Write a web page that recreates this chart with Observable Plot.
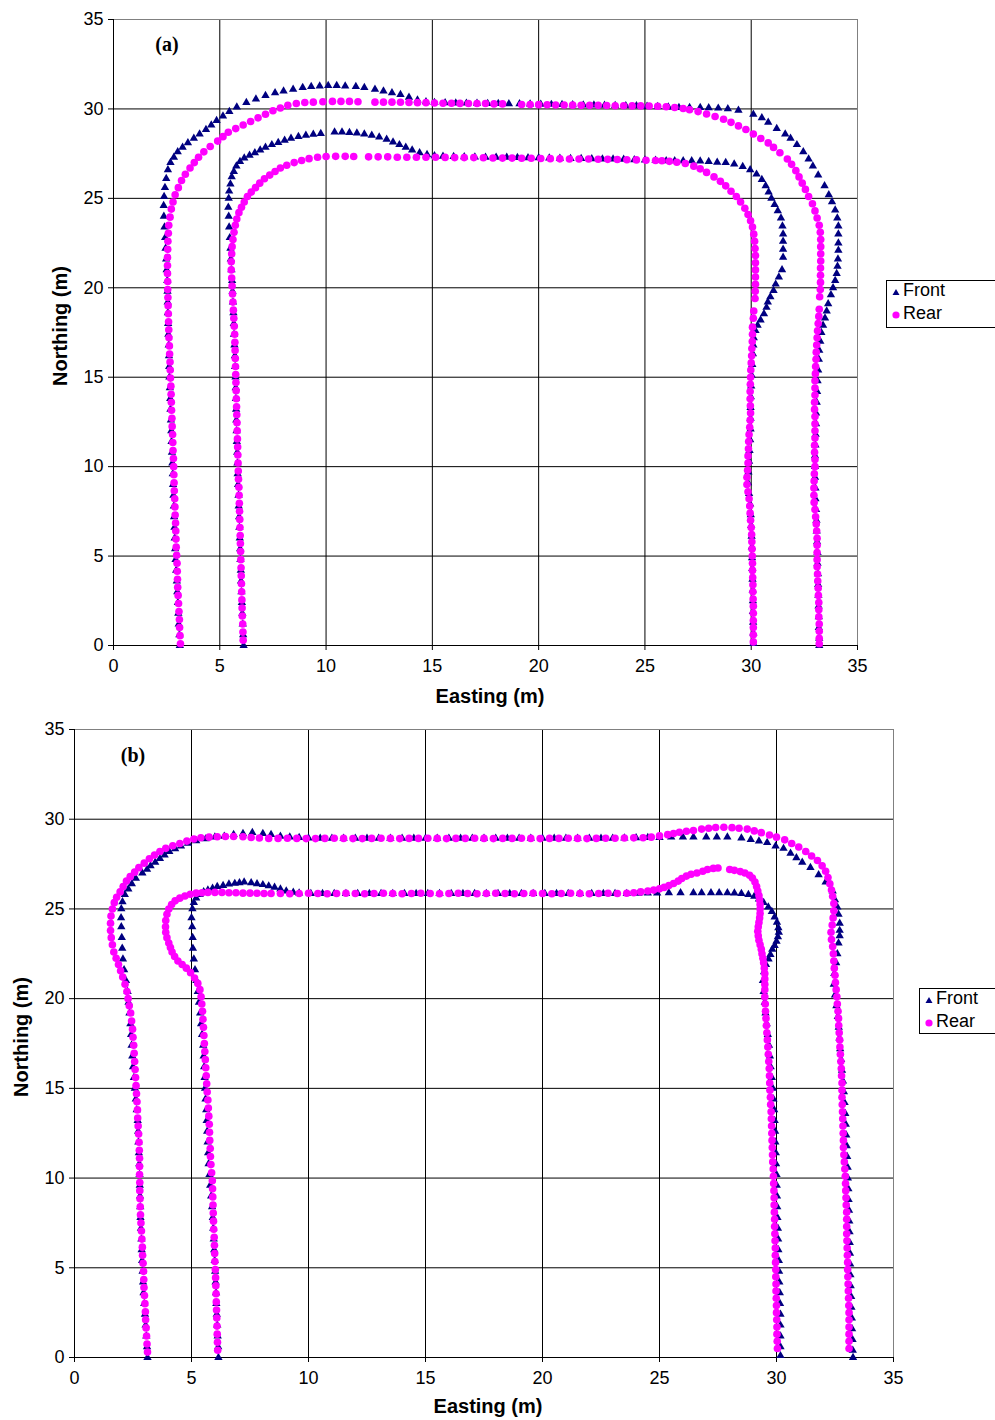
<!DOCTYPE html>
<html>
<head>
<meta charset="utf-8">
<script src="https://cdn.jsdelivr.net/npm/d3@7"></script>
<script src="https://cdn.jsdelivr.net/npm/@observablehq/plot@0.6"></script>
<style>
  html, body { margin: 0; padding: 0; background: #fff; }
  #page { position: relative; width: 995px; height: 1420px; font-family: "Liberation Sans", Arial, sans-serif; color: #000; }
  .panel { position: absolute; left: 0; }
  .ytitle, .xtitle { position: absolute; font-weight: bold; font-size: 20px; white-space: nowrap; }
  .ytitle { transform: translate(-50%, -50%) rotate(-90deg); }
  .xtitle { transform: translate(-50%, -50%); }
  .tag { position: absolute; font-family: "Liberation Serif", "Times New Roman", serif; font-weight: bold; font-size: 20px; transform: translate(-50%, -50%); }
  .legend { position: absolute; border: 1px solid #000; background: #fff; font-size: 18px; box-sizing: border-box; padding: 0 0 0 4px; }
  .legend .row { display: flex; align-items: center; height: 23px; }
  .legend svg { margin-right: 2px; }
</style>
</head>
<body>
<div id="page">
  <div id="panelA" class="panel" style="top:0"></div>
  <div id="panelB" class="panel" style="top:710px"></div>
  <div class="ytitle" style="left:60px; top:326px">Northing (m)</div>
  <div class="xtitle" style="left:490px; top:696px">Easting (m)</div>
  <div class="tag" style="left:167px; top:44px">(a)</div>
  <div class="legend" style="left:886px; top:280px; width:112px; height:48px">
    <div class="row" style="margin-top:-2px"><svg width="10" height="10"><path d="M5,3 L8.5,9 L1.5,9 Z" fill="#000080"/></svg>Front</div>
    <div class="row"><svg width="10" height="10"><circle cx="5" cy="6" r="3.6" fill="#ff00ff"/></svg>Rear</div>
  </div>
  <div class="ytitle" style="left:21px; top:1037px">Northing (m)</div>
  <div class="xtitle" style="left:488px; top:1406px">Easting (m)</div>
  <div class="tag" style="left:133px; top:755px">(b)</div>
  <div class="legend" style="left:919px; top:988px; width:80px; height:46px">
    <div class="row" style="margin-top:-2px"><svg width="10" height="10"><path d="M5,3 L8.5,9 L1.5,9 Z" fill="#000080"/></svg>Front</div>
    <div class="row"><svg width="10" height="10"><circle cx="5" cy="6" r="3.6" fill="#ff00ff"/></svg>Rear</div>
  </div>
</div>
<script>
// Axis ticks (metres)
const axisTicks = [0, 5, 10, 15, 20, 25, 30, 35];
const gridTicks = [5, 10, 15, 20, 25, 30];
const seriesNames = ["Front", "Rear"];

// All series below are pairs: northing, easting (m)
// Panel (a)
const aFrontOuter = [0,3.12, 0.6,3.1, 1.2,3.07, 1.8,3.05, 2.4,3.03, 3,3, 3.6,2.98, 4.2,2.95, 4.8,2.92, 5.4,2.9, 6,2.88, 6.6,2.87, 7.2,2.85, 7.8,2.84, 8.4,2.82, 9,2.8, 9.6,2.79, 10.2,2.77, 10.8,2.75, 11.4,2.73, 12,2.72, 12.6,2.7, 13.2,2.68, 13.8,2.67, 14.4,2.65, 15,2.63, 15.6,2.62, 16.2,2.61, 16.8,2.6, 17.4,2.58, 18,2.57, 18.6,2.56, 19.2,2.55, 19.8,2.54, 20.4,2.53, 21,2.5, 21.6,2.48, 22.2,2.45, 22.8,2.43, 23.4,2.4, 24,2.37, 24.6,2.36, 25.1,2.38, 25.6,2.42, 26.1,2.48, 26.6,2.56, 27,2.68, 27.3,2.84, 27.6,3.02, 27.85,3.25, 28.1,3.5, 28.35,3.78, 28.6,4.05, 28.85,4.35, 29.1,4.6, 29.35,4.85, 29.6,5.15, 29.85,5.45, 30.1,5.8, 30.35,6.25, 30.55,6.7, 30.75,7.15, 30.9,7.6, 31,8, 31.1,8.45, 31.2,8.9, 31.25,9.3, 31.28,9.7, 31.3,10.1, 31.3,10.5, 31.28,10.9, 31.25,11.4, 31.2,11.8, 31.1,12.3, 31,12.7, 30.9,13.1, 30.8,13.5, 30.65,13.9, 30.5,14.3, 30.4,14.7, 30.35,15.1, 30.34,15.6, 30.33,16.1, 30.32,16.6, 30.31,17.1, 30.3,17.6, 30.3,18.1, 30.29,18.6, 30.28,19.1, 30.27,19.6, 30.26,20.1, 30.25,20.6, 30.24,21.1, 30.23,21.6, 30.22,22.1, 30.21,22.6, 30.2,23.1, 30.19,23.6, 30.18,24.1, 30.17,24.6, 30.15,25.1, 30.13,25.6, 30.1,26.1, 30.08,26.6, 30.07,27.1, 30.07,27.6, 30.06,28, 30.04,28.45, 30,28.9, 29.92,29.4, 29.7,30.1, 29.5,30.5, 29.25,30.8, 28.9,31.2, 28.6,31.6, 28.35,31.85, 28,32.15, 27.6,32.45, 27.2,32.7, 26.8,32.9, 26.3,33.15, 25.7,33.45, 25.2,33.65, 24.8,33.8, 24.35,33.95, 23.9,34.05, 23.45,34.1, 23,34.1, 22.5,34.1, 22.1,34.1, 21.6,34.08, 21.2,34.06, 20.8,34.02, 20.4,33.95, 20,33.85, 19.6,33.75, 19.1,33.62, 18.7,33.55, 18.3,33.47, 17.9,33.38, 17.5,33.3, 17,33.25, 16.5,33.2, 16,33.18, 15.4,33.15, 14.8,33.12, 14.2,33.1, 13.6,33.08, 13,33.05, 12.4,33.05, 11.8,33.03, 11.2,33.02, 10.6,33, 10,33, 9.4,33, 8.8,33.02, 8.2,33.02, 7.6,33.05, 7,33.07, 6.4,33.08, 5.8,33.1, 5.2,33.12, 4.6,33.12, 4,33.14, 3.4,33.15, 2.8,33.16, 2.2,33.17, 1.6,33.18, 1,33.18, 0.4,33.2, 0,33.2];
const aRearOuter = [0.1,3.15, 0.55,3.13, 1,3.11, 1.45,3.1, 1.9,3.08, 2.35,3.06, 2.8,3.04, 3.25,3.02, 3.7,3.01, 4.15,3, 4.6,2.99, 5.05,2.97, 5.5,2.95, 5.95,2.94, 6.4,2.93, 6.85,2.92, 7.3,2.9, 7.75,2.89, 8.2,2.88, 8.65,2.86, 9.1,2.85, 9.55,2.84, 10,2.83, 10.45,2.82, 10.9,2.8, 11.35,2.79, 11.8,2.78, 12.25,2.76, 12.7,2.75, 13.15,2.73, 13.6,2.72, 14.05,2.71, 14.5,2.7, 14.95,2.68, 15.4,2.67, 15.85,2.66, 16.3,2.64, 16.75,2.63, 17.2,2.61, 17.65,2.6, 18.1,2.59, 18.55,2.58, 19,2.57, 19.45,2.56, 19.9,2.55, 20.35,2.55, 20.8,2.54, 21.25,2.54, 21.7,2.54, 22.15,2.55, 22.6,2.56, 23.05,2.58, 23.5,2.6, 23.95,2.66, 24.4,2.72, 24.8,2.8, 25.2,2.9, 25.6,3.05, 26,3.2, 26.35,3.38, 26.7,3.6, 27,3.8, 27.3,4, 27.6,4.25, 27.9,4.55, 28.2,4.9, 28.45,5.15, 28.7,5.4, 28.9,5.75, 29.1,6.1, 29.3,6.45, 29.5,6.8, 29.7,7.15, 29.9,7.5, 30.05,7.85, 30.2,8.2, 30.3,8.6, 30.36,9, 30.38,9.4, 30.4,9.85, 30.42,10.3, 30.42,10.7, 30.42,11.1, 30.4,11.5, 30.38,12.3, 30.38,12.7, 30.38,13.1, 30.37,13.5, 30.36,13.9, 30.35,14.3, 30.35,14.7, 30.33,15.1, 30.32,15.5, 30.32,15.9, 30.31,16.3, 30.3,16.7, 30.3,17.1, 30.3,17.5, 30.28,17.9, 30.28,18.3, 30.25,19.2, 30.25,19.6, 30.24,20, 30.23,20.4, 30.22,20.8, 30.22,21.2, 30.21,21.6, 30.2,22, 30.2,22.4, 30.2,22.8, 30.19,23.2, 30.18,23.6, 30.18,24, 30.17,24.4, 30.17,24.8, 30.16,25.2, 30.15,25.6, 30.12,26, 30.08,26.4, 30.02,26.8, 29.95,27.1, 29.85,27.5, 29.72,27.9, 29.58,28.3, 29.42,28.7, 29.25,29.05, 29.05,29.4, 28.85,29.75, 28.6,30.1, 28.35,30.45, 28.1,30.8, 27.85,31.05, 27.55,31.35, 27.2,31.7, 26.9,31.9, 26.55,32.1, 26.2,32.25, 25.85,32.4, 25.5,32.55, 25.1,32.7, 24.7,32.88, 24.3,33, 23.9,33.1, 23.5,33.2, 23.1,33.25, 22.7,33.27, 22.3,33.27, 21.9,33.27, 21.5,33.27, 21.1,33.26, 20.7,33.26, 20.3,33.26, 19.9,33.25, 19.5,33.22, 18.8,33.2, 18.4,33.18, 18,33.15, 17.6,33.12, 17.2,33.1, 16.8,33.08, 16.4,33.06, 16,33.05, 15.6,33.03, 15.2,33.02, 14.8,33, 14.4,33, 14,33, 13.6,32.98, 13.2,32.98, 12.8,33, 12.4,33, 12,33, 11.6,33, 11.2,32.98, 10.8,32.98, 10.4,33, 10,33, 9.6,32.97, 9.2,32.96, 8.8,32.95, 8.4,32.95, 8,32.96, 7.6,33, 7.2,33.03, 6.8,33.06, 6.4,33.08, 6,33.1, 5.6,33.1, 5.2,33.1, 4.8,33.1, 4.4,33.1, 4,33.12, 3.6,33.13, 3.2,33.15, 2.8,33.16, 2.4,33.18, 2,33.18, 1.6,33.18, 1.2,33.2, 0.8,33.2, 0.4,33.2, 0.1,33.2];
const aFrontInner = [0,6.12, 0.6,6.1, 1.2,6.08, 1.8,6.06, 2.4,6.04, 3,6.02, 3.6,6, 4.2,5.99, 4.8,5.97, 5.4,5.96, 6,5.94, 6.6,5.92, 7.2,5.91, 7.8,5.89, 8.4,5.88, 9,5.86, 9.6,5.84, 10.2,5.83, 10.8,5.82, 11.4,5.8, 12,5.79, 12.6,5.78, 13.2,5.77, 13.8,5.76, 14.4,5.75, 15,5.74, 15.6,5.72, 16.2,5.71, 16.8,5.69, 17.4,5.67, 18,5.66, 18.6,5.64, 19.2,5.62, 19.8,5.6, 20.4,5.58, 21,5.55, 21.6,5.52, 22.2,5.5, 22.8,5.47, 23.4,5.44, 24,5.42, 24.5,5.4, 25,5.42, 25.4,5.44, 25.8,5.5, 26.2,5.56, 26.5,5.66, 26.8,5.78, 27.05,5.95, 27.25,6.15, 27.4,6.4, 27.55,6.65, 27.7,6.9, 27.85,7.15, 28,7.45, 28.12,7.75, 28.25,8.05, 28.35,8.35, 28.45,8.7, 28.52,9.05, 28.58,9.4, 28.62,9.75, 28.7,10.4, 28.7,10.75, 28.68,11.1, 28.65,11.45, 28.6,11.8, 28.52,12.15, 28.42,12.5, 28.3,12.85, 28.15,13.15, 28,13.45, 27.85,13.75, 27.7,14.05, 27.55,14.4, 27.45,14.75, 27.38,15.1, 27.35,15.5, 27.33,16, 27.32,16.5, 27.31,17, 27.3,17.5, 27.3,18, 27.29,18.5, 27.28,19, 27.27,19.5, 27.26,20, 27.25,20.5, 27.24,21, 27.23,21.5, 27.22,22, 27.21,22.5, 27.2,23, 27.19,23.5, 27.18,24, 27.16,24.5, 27.14,25, 27.12,25.5, 27.1,26, 27.1,26.4, 27.1,26.8, 27.1,27.2, 27.08,27.6, 27.05,28, 27.02,28.4, 27,28.8, 26.92,29.2, 26.78,29.6, 26.6,29.95, 26.35,30.25, 26.05,30.5, 25.7,30.68, 25.35,30.82, 25,30.95, 24.65,31.1, 24.3,31.25, 23.9,31.4, 23.45,31.47, 23,31.5, 22.6,31.5, 22.15,31.5, 21.7,31.5, 21,31.45, 20.6,31.3, 20.2,31.15, 19.85,31.05, 19.5,30.9, 19.2,30.78, 18.9,30.72, 18.55,30.6, 18.2,30.44, 17.9,30.3, 17.6,30.2, 17.2,30.12, 16.8,30.1, 16.3,30.08, 15.7,30.05, 15.1,30.02, 14.5,30, 13.9,29.98, 13.3,29.97, 12.7,29.97, 12.1,29.97, 11.5,29.95, 10.9,29.92, 10.3,29.9, 9.7,29.87, 9.1,29.85, 8.5,29.9, 7.9,29.95, 7.3,29.98, 6.7,30, 6.1,30.02, 5.5,30.03, 4.9,30.04, 4.3,30.05, 3.7,30.06, 3.1,30.07, 2.5,30.08, 1.9,30.08, 1.3,30.09, 0.7,30.1, 0.1,30.1];
const aRearInner = [0.3,6.1, 0.75,6.09, 1.2,6.08, 1.65,6.06, 2.1,6.05, 2.55,6.04, 3,6.03, 3.45,6.02, 3.9,6.01, 4.35,6, 4.8,5.99, 5.25,5.98, 5.7,5.97, 6.15,5.96, 6.6,5.95, 7.05,5.94, 7.5,5.93, 7.95,5.92, 8.4,5.91, 8.85,5.9, 9.3,5.88, 9.75,5.87, 10.2,5.86, 10.65,5.85, 11.1,5.84, 11.55,5.83, 12,5.82, 12.45,5.81, 12.9,5.8, 13.35,5.79, 13.8,5.78, 14.25,5.77, 14.7,5.76, 15.15,5.75, 15.6,5.74, 16.05,5.73, 16.5,5.72, 16.95,5.71, 17.4,5.7, 17.85,5.68, 18.3,5.66, 18.75,5.64, 19.2,5.62, 19.65,5.6, 20.1,5.58, 20.55,5.56, 21,5.54, 21.45,5.54, 21.9,5.56, 22.3,5.58, 22.7,5.62, 23.1,5.67, 23.5,5.73, 23.85,5.8, 24.2,5.9, 24.5,6.02, 24.8,6.15, 25.1,6.3, 25.35,6.48, 25.6,6.68, 25.85,6.88, 26.1,7.1, 26.3,7.35, 26.5,7.6, 26.7,7.85, 26.85,8.15, 27,8.5, 27.12,8.85, 27.22,9.2, 27.3,9.6, 27.34,10, 27.35,10.45, 27.35,10.9, 27.34,11.3, 27.32,12, 27.32,12.45, 27.32,12.9, 27.3,13.35, 27.3,13.8, 27.3,14.25, 27.3,14.7, 27.3,15.15, 27.29,15.6, 27.28,16.05, 27.28,16.5, 27.28,16.95, 27.27,17.4, 27.26,17.85, 27.25,18.3, 27.25,18.75, 27.24,19.2, 27.24,19.65, 27.23,20.1, 27.22,20.55, 27.21,21, 27.2,21.45, 27.2,21.9, 27.2,22.35, 27.19,22.8, 27.18,23.25, 27.17,23.7, 27.16,24.15, 27.15,24.6, 27.13,25.05, 27.12,25.5, 27.1,25.8, 27.07,26.15, 27.02,26.5, 26.95,26.9, 26.8,27.3, 26.65,27.6, 26.45,27.9, 26.2,28.25, 25.95,28.55, 25.7,28.8, 25.4,29.05, 25.1,29.3, 24.8,29.5, 24.45,29.7, 24.1,29.85, 23.75,29.97, 23.4,30.06, 23,30.12, 22.6,30.16, 22.2,30.18, 21.8,30.2, 21.4,30.2, 21,30.2, 20.6,30.2, 20.2,30.2, 19.8,30.19, 19.4,30.18, 18.7,30.12, 18.3,30.1, 17.8,30.06, 17.4,30.06, 17,30.05, 16.6,30.03, 16.2,30.02, 15.8,30, 15.4,29.98, 15,29.97, 14.6,29.96, 14.2,29.95, 13.8,29.95, 13.4,29.96, 13,29.97, 12.6,29.95, 12.2,29.93, 11.8,29.9, 11.4,29.88, 11,29.87, 10.6,29.85, 10.2,29.85, 9.8,29.83, 9.4,29.8, 9,29.8, 8.6,29.85, 8.2,29.9, 7.8,29.93, 7.4,29.95, 7,29.97, 6.6,30, 6.2,30.02, 5.8,30.03, 5.4,30.04, 5,30.05, 4.6,30.06, 4.2,30.06, 3.8,30.07, 3.4,30.08, 3,30.08, 2.6,30.09, 2.2,30.1, 1.8,30.1, 1.4,30.1, 1,30.1, 0.6,30.1, 0.2,30.1];

// Panel (b)
const bFrontOuter = [0,3.12, 0.6,3.1, 1.2,3.07, 1.8,3.04, 2.4,3.01, 3,2.98, 3.6,2.95, 4.2,2.93, 4.8,2.91, 5.4,2.89, 6,2.87, 6.6,2.86, 7.2,2.84, 7.8,2.82, 8.4,2.81, 9,2.8, 9.6,2.79, 10.2,2.78, 10.8,2.77, 11.4,2.75, 12,2.73, 12.6,2.72, 13.2,2.7, 13.8,2.66, 14.4,2.62, 15,2.58, 15.6,2.54, 16.2,2.5, 16.8,2.47, 17.4,2.44, 18,2.42, 18.6,2.39, 19.2,2.35, 19.8,2.31, 20.4,2.27, 21,2.2, 21.6,2.12, 22.2,2.07, 22.8,2.04, 23.4,2.02, 24,2, 24.5,1.99, 25,2, 25.4,2.05, 25.8,2.15, 26.1,2.3, 26.4,2.45, 26.7,2.62, 27,2.9, 27.2,3.1, 27.4,3.25, 27.6,3.45, 27.8,3.65, 28,3.85, 28.2,4.05, 28.35,4.3, 28.5,4.55, 28.65,4.85, 28.8,5.2, 28.9,5.6, 29,6, 29.05,6.4, 29.15,6.8, 29.2,7.2, 29.25,7.6, 29.2,8.05, 29.15,8.4, 29.05,8.8, 29,9.2, 28.97,9.6, 28.95,10, 28.94,10.5, 28.93,11, 28.93,11.5, 28.93,12, 28.93,12.5, 28.93,13, 28.93,13.5, 28.93,14, 28.93,14.5, 28.93,15, 28.93,15.5, 28.93,16, 28.93,16.5, 28.93,17, 28.93,17.5, 28.93,18, 28.93,18.5, 28.93,19, 28.93,19.5, 28.93,20, 28.93,20.5, 28.93,21, 28.93,21.5, 28.93,22, 28.94,22.5, 28.94,23, 28.95,23.5, 28.96,24, 28.97,24.5, 28.98,25, 29,25.5, 29,26, 29,26.45, 29,27, 29,27.45, 29,27.9, 28.95,28.5, 28.87,28.9, 28.78,29.25, 28.7,29.6, 28.5,29.96, 28.37,30.3, 28.1,30.6, 27.85,30.85, 27.6,31.1, 27.3,31.45, 26.9,31.8, 26.5,32.1, 26,32.4, 25.5,32.5, 25.1,32.6, 24.7,32.65, 24.2,32.7, 23.8,32.7, 23.5,32.7, 23.1,32.65, 22.5,32.6, 22,32.55, 21.4,32.47, 20.8,32.45, 20.2,32.5, 19.6,32.56, 19,32.62, 18.4,32.66, 17.8,32.69, 17.2,32.72, 16.6,32.76, 16,32.8, 15.4,32.84, 14.8,32.88, 14.2,32.91, 13.6,32.94, 13,32.96, 12.4,32.98, 11.8,33, 11.2,33.02, 10.6,33.04, 10,33.05, 9.4,33.07, 8.8,33.08, 8.2,33.1, 7.6,33.11, 7,33.12, 6.4,33.13, 5.8,33.14, 5.2,33.15, 4.6,33.16, 4,33.17, 3.4,33.19, 2.8,33.2, 2.2,33.22, 1.6,33.23, 1,33.25, 0.4,33.26, 0,33.27];
const bRearOuter = [0.3,3.12, 0.75,3.1, 1.2,3.08, 1.65,3.06, 2.1,3.04, 2.55,3.03, 3,3.01, 3.45,2.99, 3.9,2.97, 4.35,2.96, 4.8,2.95, 5.25,2.93, 5.7,2.91, 6.15,2.9, 6.6,2.88, 7.05,2.86, 7.5,2.84, 7.95,2.82, 8.4,2.81, 8.85,2.8, 9.3,2.79, 9.75,2.79, 10.2,2.78, 10.65,2.78, 11.1,2.78, 11.55,2.77, 12,2.76, 12.45,2.74, 12.9,2.72, 13.35,2.7, 13.8,2.69, 14.25,2.67, 14.7,2.65, 15.15,2.63, 15.6,2.61, 16.05,2.59, 16.5,2.57, 16.95,2.55, 17.4,2.53, 17.85,2.5, 18.3,2.48, 18.75,2.44, 19.2,2.4, 19.6,2.34, 20,2.29, 20.4,2.24, 20.8,2.16, 21.2,2.06, 21.55,1.97, 21.9,1.88, 22.25,1.78, 22.6,1.68, 23,1.62, 23.4,1.57, 23.8,1.54, 24.2,1.54, 24.6,1.56, 25,1.62, 25.35,1.7, 25.65,1.8, 25.95,1.95, 26.25,2.08, 26.55,2.22, 26.8,2.38, 27.05,2.57, 27.3,2.75, 27.55,2.98, 27.8,3.2, 28,3.42, 28.2,3.65, 28.38,3.9, 28.52,4.2, 28.65,4.5, 28.78,4.8, 28.9,5.1, 28.97,5.4, 29,5.75, 29.02,6.1, 29.04,6.45, 29.04,6.8, 29.02,7.2, 28.98,7.55, 28.95,7.9, 28.93,8.3, 28.93,8.7, 28.94,9.1, 28.93,9.5, 28.92,9.9, 28.92,10.3, 28.93,10.7, 28.94,11.1, 28.93,11.5, 28.92,11.9, 28.92,12.3, 28.93,12.7, 28.94,13.1, 28.93,13.5, 28.92,13.9, 28.93,14.3, 28.93,14.7, 28.94,15.1, 28.93,15.5, 28.92,15.9, 28.93,16.3, 28.93,16.7, 28.94,17.1, 28.93,17.5, 28.92,17.9, 28.93,18.3, 28.93,18.7, 28.94,19.1, 28.93,19.5, 28.92,19.9, 28.93,20.3, 28.93,20.7, 28.94,21.1, 28.93,21.5, 28.92,21.9, 28.93,22.3, 28.94,22.7, 28.94,23.1, 28.95,23.5, 28.96,23.9, 28.97,24.3, 29,24.65, 29.07,25, 29.14,25.35, 29.2,25.6, 29.27,25.85, 29.33,26.15, 29.37,26.45, 29.45,26.8, 29.5,27.1, 29.54,27.4, 29.55,27.75, 29.53,28.1, 29.5,28.4, 29.45,28.75, 29.35,29.05, 29.25,29.35, 29.12,29.7, 29,30, 28.85,30.35, 28.65,30.65, 28.45,30.95, 28.2,31.25, 27.95,31.5, 27.7,31.75, 27.4,31.95, 27.1,32.1, 26.75,32.2, 26.4,32.28, 26.05,32.35, 25.7,32.4, 25.3,32.45, 24.9,32.45, 24.5,32.42, 24.1,32.38, 23.7,32.33, 23.3,32.35, 22.9,32.4, 22.5,32.43, 22.1,32.45, 21.7,32.47, 21.3,32.5, 20.9,32.52, 20.5,32.55, 20.1,32.58, 19.7,32.6, 19.3,32.63, 18.9,32.65, 18.5,32.66, 18.1,32.68, 17.7,32.7, 17.3,32.71, 16.9,32.73, 16.5,32.75, 16.1,32.77, 15.7,32.78, 15.3,32.8, 14.9,32.8, 14.5,32.8, 14.1,32.81, 13.7,32.82, 13.3,32.83, 12.9,32.84, 12.5,32.85, 12.1,32.86, 11.7,32.86, 11.3,32.88, 10.9,32.9, 10.5,32.92, 10.1,32.94, 9.7,32.95, 9.3,32.96, 8.9,32.97, 8.5,32.98, 8.1,33, 7.7,33, 7.3,33, 6.9,33, 6.5,33.01, 6.1,33.02, 5.7,33.03, 5.3,33.04, 4.9,33.04, 4.5,33.05, 4.1,33.06, 3.7,33.07, 3.3,33.08, 2.9,33.09, 2.5,33.1, 2.1,33.1, 1.7,33.1, 1.3,33.1, 0.9,33.1, 0.5,33.1];
const bFrontInner = [0,6.15, 0.6,6.14, 1.2,6.12, 1.8,6.1, 2.4,6.08, 3,6.06, 3.6,6.05, 4.2,6.03, 4.8,6.01, 5.4,5.99, 6,5.97, 6.6,5.95, 7.2,5.93, 7.8,5.91, 8.4,5.88, 9,5.84, 9.6,5.8, 10.2,5.77, 10.8,5.73, 11.4,5.71, 12,5.69, 12.6,5.67, 13.2,5.65, 13.8,5.63, 14.4,5.6, 15,5.58, 15.6,5.56, 16.2,5.54, 16.8,5.52, 17.4,5.5, 18,5.45, 18.6,5.41, 19.2,5.37, 19.8,5.32, 20.4,5.27, 21,5.21, 21.6,5.15, 22.2,5.1, 22.8,5.06, 23.4,5.05, 24,5.03, 24.5,5, 25,5.04, 25.35,5.1, 25.6,5.2, 25.8,5.35, 25.95,5.52, 26.05,5.7, 26.15,5.9, 26.25,6.1, 26.3,6.35, 26.38,6.6, 26.42,6.85, 26.45,7.05, 26.5,7.25, 26.45,7.55, 26.4,7.8, 26.35,8.05, 26.28,8.3, 26.2,8.55, 26.1,8.8, 26,9.05, 25.93,9.35, 25.88,9.6, 25.86,10.1, 25.86,10.6, 25.86,11.1, 25.86,11.6, 25.86,12.1, 25.86,12.6, 25.86,13.1, 25.86,13.6, 25.86,14.1, 25.86,14.6, 25.86,15.1, 25.86,15.6, 25.86,16.1, 25.86,16.6, 25.86,17.1, 25.86,17.6, 25.86,18.1, 25.86,18.6, 25.86,19.1, 25.86,19.6, 25.86,20.1, 25.86,20.6, 25.86,21.1, 25.86,21.6, 25.86,22.1, 25.86,22.6, 25.86,23.1, 25.86,23.6, 25.87,24.1, 25.88,24.5, 25.88,24.9, 25.9,25.4, 25.9,25.9, 25.9,26.45, 25.9,26.8, 25.9,27.2, 25.9,27.55, 25.9,27.9, 25.88,28.2, 25.85,28.5, 25.8,28.8, 25.7,29.05, 25.55,29.25, 25.35,29.45, 25.1,29.65, 24.85,29.8, 24.55,29.92, 24.25,30.02, 23.95,30.08, 23.7,30.1, 23.45,30.06, 23.2,30, 22.95,29.92, 22.75,29.82, 22.45,29.74, 22.2,29.66, 21.9,29.55, 21.5,29.47, 21,29.42, 20.4,29.45, 19.8,29.5, 19.2,29.53, 18.6,29.58, 18,29.63, 17.4,29.68, 16.8,29.72, 16.2,29.75, 15.6,29.8, 15,29.84, 14.4,29.87, 13.8,29.9, 13.2,29.92, 12.6,29.94, 12,29.95, 11.4,29.97, 10.8,29.98, 10.2,30, 9.6,30.01, 9,30.02, 8.4,30.03, 7.8,30.04, 7.2,30.06, 6.6,30.07, 6,30.08, 5.4,30.1, 4.8,30.11, 4.2,30.12, 3.6,30.14, 3,30.15, 2.4,30.17, 1.8,30.17, 1.2,30.17, 0.6,30.17, 0.1,30.17];
const bRearInner = [0.4,6.12, 0.85,6.11, 1.3,6.1, 1.75,6.09, 2.2,6.08, 2.65,6.07, 3.1,6.06, 3.55,6.05, 4,6.04, 4.45,6.03, 4.9,6.02, 5.35,6, 5.8,5.99, 6.25,5.98, 6.7,5.97, 7.15,5.95, 7.6,5.94, 8.05,5.93, 8.5,5.92, 8.95,5.91, 9.4,5.9, 9.85,5.89, 10.3,5.86, 10.75,5.83, 11.2,5.81, 11.65,5.8, 12.1,5.78, 12.55,5.77, 13,5.76, 13.45,5.74, 13.9,5.72, 14.35,5.7, 14.8,5.67, 15.25,5.65, 15.7,5.63, 16.15,5.61, 16.6,5.59, 17.05,5.57, 17.5,5.55, 17.95,5.53, 18.4,5.51, 18.85,5.49, 19.3,5.47, 19.7,5.44, 20.1,5.41, 20.5,5.36, 20.85,5.27, 21.15,5.13, 21.45,4.96, 21.7,4.78, 21.9,4.6, 22.1,4.42, 22.35,4.28, 22.6,4.17, 22.85,4.1, 23.1,4.03, 23.4,3.95, 23.7,3.9, 24,3.89, 24.35,3.9, 24.7,3.95, 25,4.03, 25.25,4.15, 25.45,4.3, 25.6,4.5, 25.72,4.72, 25.82,4.95, 25.88,5.2, 25.9,5.45, 25.92,5.7, 25.92,6, 25.92,6.3, 25.9,6.6, 25.9,6.9, 25.88,7.2, 25.88,7.5, 25.87,7.8, 25.86,8.1, 25.86,8.4, 25.86,8.8, 25.85,9.2, 25.86,9.6, 25.87,10, 25.86,10.4, 25.85,10.8, 25.86,11.2, 25.87,11.6, 25.86,12, 25.85,12.4, 25.86,12.8, 25.87,13.2, 25.86,13.6, 25.85,14, 25.86,14.4, 25.87,14.8, 25.86,15.2, 25.85,15.6, 25.86,16, 25.87,16.4, 25.86,16.8, 25.85,17.2, 25.86,17.6, 25.87,18, 25.86,18.4, 25.85,18.8, 25.86,19.2, 25.87,19.6, 25.86,20, 25.85,20.4, 25.86,20.8, 25.87,21.2, 25.86,21.6, 25.85,22, 25.86,22.4, 25.87,22.8, 25.86,23.2, 25.87,23.6, 25.9,23.9, 25.95,24.2, 26,24.5, 26.05,24.75, 26.12,25, 26.2,25.2, 26.3,25.4, 26.42,25.6, 26.55,25.8, 26.7,25.95, 26.83,26.15, 26.93,26.35, 27,26.6, 27.1,26.85, 27.2,27.05, 27.26,27.3, 27.28,27.5, 27.2,28, 27.15,28.2, 27.08,28.45, 27,28.65, 26.88,28.85, 26.72,28.97, 26.5,29.08, 26.25,29.15, 26,29.2, 25.75,29.25, 25.5,29.28, 25.25,29.3, 25,29.3, 24.75,29.3, 24.5,29.28, 24.25,29.25, 24,29.22, 23.75,29.2, 23.5,29.22, 23.25,29.25, 23,29.3, 22.75,29.35, 22.5,29.38, 22.25,29.42, 22,29.45, 21.7,29.48, 21.4,29.5, 21.1,29.5, 20.8,29.5, 20.5,29.5, 20.1,29.5, 19.7,29.52, 19.3,29.53, 18.9,29.55, 18.5,29.57, 18.1,29.59, 17.7,29.61, 17.3,29.63, 16.9,29.65, 16.5,29.67, 16.1,29.69, 15.7,29.7, 15.3,29.71, 14.9,29.72, 14.5,29.74, 14.1,29.75, 13.7,29.77, 13.3,29.78, 12.9,29.79, 12.5,29.8, 12.1,29.81, 11.7,29.82, 11.3,29.83, 10.9,29.84, 10.5,29.86, 10.1,29.87, 9.7,29.88, 9.3,29.89, 8.9,29.9, 8.5,29.9, 8.1,29.91, 7.7,29.92, 7.3,29.92, 6.9,29.93, 6.5,29.94, 6.1,29.95, 5.7,29.95, 5.3,29.96, 4.9,29.97, 4.5,29.97, 4.1,29.98, 3.7,29.98, 3.3,29.99, 2.9,30, 2.5,30, 2.1,30.01, 1.7,30.02, 1.3,30.02, 0.9,30.03, 0.5,30.04];

function toPoints(...lists) {
  const out = [];
  for (const arr of lists) for (let i = 0; i + 1 < arr.length; i += 2) out.push({ northing: arr[i], easting: arr[i + 1] });
  return out;
}

function panel(front, rear, m) {
  return Plot.plot({
    width: 995,
    height: 710,
    marginLeft: m.left,
    marginRight: m.right,
    marginTop: m.top,
    marginBottom: m.bottom,
    style: { fontFamily: "'Liberation Sans', Arial, sans-serif", fontSize: "18px", color: "#000", background: "transparent", overflow: "visible" },
    x: { domain: [0, 35], label: null },
    y: { domain: [0, 35], label: null },
    marks: [
      Plot.ruleX(gridTicks, { stroke: "#000", strokeWidth: 1 }),
      Plot.ruleY(gridTicks, { stroke: "#000", strokeWidth: 1 }),
      Plot.ruleX([35], { stroke: "#808080", strokeWidth: 1 }),
      Plot.ruleY([35], { stroke: "#808080", strokeWidth: 1 }),
      Plot.ruleX([0], { stroke: "#000", strokeWidth: 1 }),
      Plot.ruleY([0], { stroke: "#000", strokeWidth: 1 }),
      Plot.axisX(axisTicks, { tickSize: 5, tickPadding: 9, fontSize: 18, label: null, stroke: "#000" }),
      Plot.axisY(axisTicks, { tickSize: 5, tickPadding: 5, fontSize: 18, label: null, stroke: "#000" }),
      Plot.dot(front, { x: "easting", y: "northing", symbol: "triangle", r: 3.1, fill: "#000080", stroke: null, title: () => seriesNames[0] }),
      Plot.dot(rear, { x: "easting", y: "northing", r: 3.8, fill: "#ff00ff", stroke: null, title: () => seriesNames[1] })
    ]
  });
}

document.getElementById("panelA").append(
  panel(toPoints(aFrontOuter, aFrontInner), toPoints(aRearOuter, aRearInner), { left: 113, right: 138, top: 19, bottom: 65 })
);
document.getElementById("panelB").append(
  panel(toPoints(bFrontOuter, bFrontInner), toPoints(bRearOuter, bRearInner), { left: 74, right: 102, top: 19, bottom: 63 })
);
</script>
</body>
</html>
